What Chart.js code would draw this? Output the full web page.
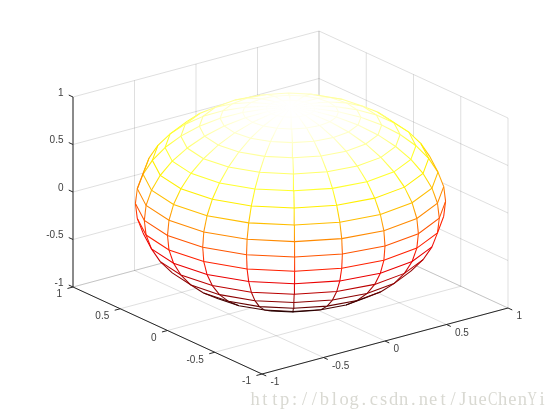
<!DOCTYPE html>
<html>
<head>
<meta charset="utf-8">
<script src="https://cdn.jsdelivr.net/npm/chart.js@4"></script>
<style>
    body { margin: 0; background: #fff; }
    canvas { display: block; }
</style>
</head>
<body>
<canvas id="chart" width="560" height="420"></canvas>
<script>
// Axis ticks
const xTicks = [-1, -0.5, 0, 0.5, 1];
const yTicks = [-1, -0.5, 0, 0.5, 1];
const zTicks = [-1, -0.5, 0, 0.5, 1];
const tickLabels = ['-1', '-0.5', '0', '0.5', '1'];

// Mesh rings, south pole to north pole
const ringZ = [-1, -0.988, -0.951, -0.891, -0.809, -0.707, -0.588, -0.454, -0.309, -0.156, 0,
    0.156, 0.309, 0.454, 0.588, 0.707, 0.809, 0.891, 0.951, 0.988, 1];
const ringRadius = [0, 0.156, 0.309, 0.454, 0.588, 0.707, 0.809, 0.891, 0.951, 0.988, 1,
    0.988, 0.951, 0.891, 0.809, 0.707, 0.588, 0.454, 0.309, 0.156, 0];

// Mesh meridians, direction of each one in the x-y plane
const meridianX = [-0.588, -0.309, 0, 0.309, 0.588, 0.809, 0.951, 1, 0.951, 0.809,
    0.588, 0.309, 0, -0.309, -0.588, -0.809, -0.951, -1, -0.951, -0.809];
const meridianY = [-0.809, -0.951, -1, -0.951, -0.809, -0.588, -0.309, 0, 0.309, 0.588,
    0.809, 0.951, 1, 0.951, 0.809, 0.588, 0.309, 0, -0.309, -0.588];

const watermark = 'http://blog.csdn.net/JueChenYi';

// Fixed view of the box, gives page units for the hidden 2D scales
function project(x, y, z) {
    return { x: 290.5 + 123 * x - 94.5 * y, y: 202.5 - 33 * x - 43.5 * y - 95 * z };
}

// MATLAB hot colormap
function hot(z) {
    const t = (z + 1) / 2;
    const clamp = v => Math.round(255 * Math.min(1, Math.max(0, v)));
    return `rgb(${clamp(t / 0.375)}, ${clamp((t - 0.375) / 0.375)}, ${clamp((t - 0.75) / 0.25)})`;
}

const columns = meridianX.length;
const rows = ringZ.length;
const mesh = ringZ.map((z, i) => meridianX.map((mx, j) =>
    project(ringRadius[i] * mx, ringRadius[i] * meridianY[j], z)));

// A face is visible when its corners wind the same way as the front of the sphere
function faceVisible(i, j) {
    if (i < 0 || i >= rows - 1) return false;
    const j2 = (j + columns) % columns;
    const j3 = (j2 + 1) % columns;
    const pts = [mesh[i][j2], mesh[i][j3], mesh[i + 1][j3], mesh[i + 1][j2]];
    let area = 0;
    pts.forEach((p, k) => {
        const q = pts[(k + 1) % 4];
        area += p.x * q.y - q.x * p.y;
    });
    return area < 0;
}

function faceDatasets() {
    const sets = [];
    for (let i = 0; i < rows - 1; i++) {
        for (let j = 0; j < columns; j++) {
            if (!faceVisible(i, j)) continue;
            const j3 = (j + 1) % columns;
            sets.push({
                data: [mesh[i][j], mesh[i][j3], mesh[i + 1][j3], mesh[i + 1][j]],
                borderWidth: 0,
                borderColor: 'rgba(255, 255, 255, 0)',
                backgroundColor: '#fff',
                fill: 'shape'
            });
        }
    }
    return sets;
}

function ringDatasets() {
    return ringZ.map((z, i) => ({
        data: mesh[i].concat([mesh[i][0]]),
        borderWidth: 1.05,
        borderColor: hot(z),
        segment: {
            borderColor: ctx => {
                const j = ctx.p0DataIndex;
                return faceVisible(i, j) || faceVisible(i - 1, j) ? hot(z) : 'rgba(0, 0, 0, 0)';
            }
        }
    }));
}

function meridianDatasets() {
    return meridianX.map((mx, j) => ({
        data: mesh.map(row => row[j]),
        borderWidth: 1.05,
        borderColor: '#f00',
        segment: {
            borderColor: ctx => {
                const i = ctx.p0DataIndex;
                if (!faceVisible(i, j) && !faceVisible(i, j - 1)) return 'rgba(0, 0, 0, 0)';
                const g = ctx.chart.ctx.createLinearGradient(ctx.p0.x, ctx.p0.y, ctx.p1.x, ctx.p1.y);
                g.addColorStop(0, hot(ringZ[i]));
                g.addColorStop(1, hot(ringZ[i + 1]));
                return g;
            }
        }
    }));
}

function line3d(a, b, color) {
    return { data: [project(...a), project(...b)], borderWidth: 1, borderColor: color };
}

function gridDatasets() {
    const color = 'rgba(38, 38, 38, 0.15)';
    const sets = [];
    xTicks.forEach(x => {
        sets.push(line3d([x, -1, -1], [x, 1, -1], color));
        sets.push(line3d([x, 1, -1], [x, 1, 1], color));
    });
    yTicks.forEach(y => {
        sets.push(line3d([-1, y, -1], [1, y, -1], color));
        sets.push(line3d([1, y, -1], [1, y, 1], color));
    });
    zTicks.forEach(z => {
        sets.push(line3d([-1, 1, z], [1, 1, z], color));
        sets.push(line3d([1, 1, z], [1, -1, z], color));
    });
    return sets;
}

function axisDatasets() {
    const color = '#262626';
    const tick = 0.045;
    const sets = [
        line3d([-1, -1, -1], [1, -1, -1], color),
        line3d([-1, -1, -1], [-1, 1, -1], color),
        line3d([-1, 1, -1], [-1, 1, 1], color)
    ];
    xTicks.forEach(x => sets.push(line3d([x, -1, -1], [x, -1 - tick, -1], color)));
    yTicks.forEach(y => sets.push(line3d([-1, y, -1], [-1 - tick, y, -1], color)));
    zTicks.forEach(z => sets.push(line3d([-1, 1, z], [-1, 1 + tick, z], color)));
    return sets;
}

const tickTextPlugin = {
    id: 'tickText',
    afterDraw(chart) {
        const c = chart.ctx;
        c.save();
        c.font = '10px "Liberation Sans"';
        c.fillStyle = '#404040';
        c.textBaseline = 'middle';
        c.textAlign = 'left';
        xTicks.forEach((x, i) => {
            const p = project(x, -1, -1);
            c.fillText(tickLabels[i], p.x + 8.5, p.y + 8.5);
        });
        c.textAlign = 'right';
        yTicks.forEach((y, i) => {
            const p = project(-1, y, -1);
            c.fillText(tickLabels[i], p.x - 11, p.y + 7.5);
        });
        zTicks.forEach((z, i) => {
            const p = project(-1, 1, z);
            c.fillText(tickLabels[i], p.x - 9.5, p.y - 4);
        });
        // Blog watermark, fixed pitch, wide capitals squeezed to fit
        c.font = '18.5px "Liberation Serif"';
        c.fillStyle = '#d9d9d2';
        c.textAlign = 'center';
        c.textBaseline = 'alphabetic';
        [...watermark].forEach((ch, i) => c.fillText(ch, 255 + i * 9.9, 405, 9.4));
        c.restore();
    }
};

// Chart.js paints the first dataset on top, so mesh lines go first
new Chart(document.getElementById('chart'), {
    type: 'scatter',
    data: {
        datasets: [
            ...axisDatasets(),
            ...ringDatasets(),
            ...meridianDatasets(),
            ...faceDatasets(),
            ...gridDatasets()
        ]
    },
    options: {
        responsive: false,
        animation: false,
        showLine: true,
        layout: { padding: 0 },
        elements: { point: { radius: 0 }, line: { tension: 0 } },
        scales: {
            x: { type: 'linear', display: false, min: 0, max: 560 },
            y: { type: 'linear', display: false, min: 0, max: 420, reverse: true }
        },
        plugins: {
            legend: { display: false },
            tooltip: { enabled: false }
        }
    },
    plugins: [tickTextPlugin]
});
</script>
</body>
</html>
